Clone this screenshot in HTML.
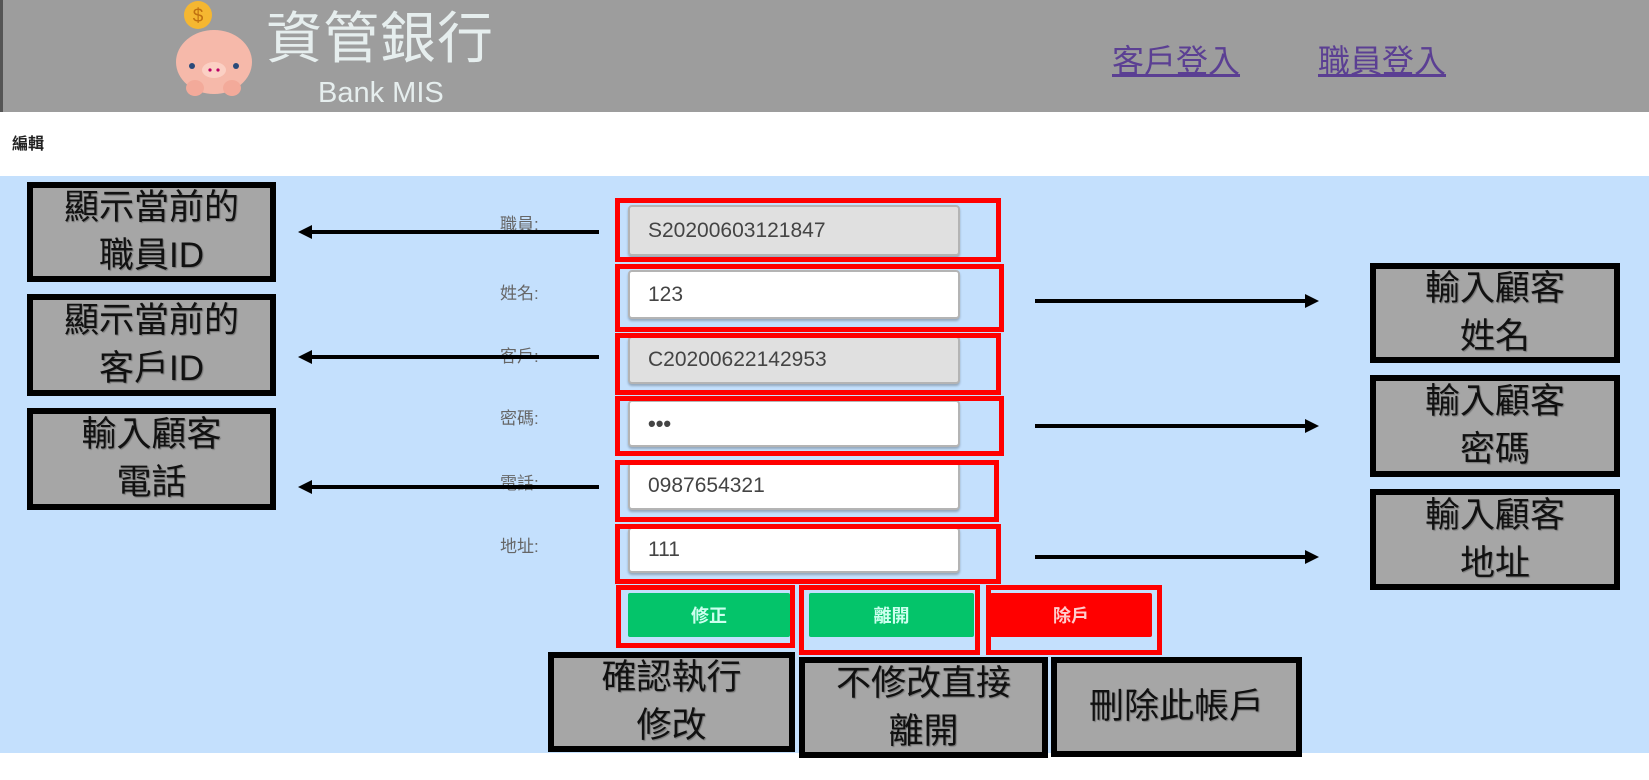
<!DOCTYPE html>
<html><head><meta charset="utf-8"><style>
*{margin:0;padding:0;box-sizing:border-box}
body{width:1649px;height:780px;position:relative;background:#fff;font-family:"Liberation Sans","Noto Sans CJK TC",sans-serif;overflow:hidden}
.a{position:absolute}
.hdr{left:0;top:0;width:1649px;height:112px;background:#9d9d9d;border-left:3px solid #555}
.blue{left:0;top:176px;width:1649px;height:577px;background:#c4e0fd}
.lnk{color:#5b3f93;text-decoration:underline;font-size:32px;top:36px}
.lbl{left:500px;font-size:17px;color:#666;line-height:20px}
.inp{left:628px;width:332px;border:2px solid #b4b4b4;border-radius:4px;background:#fff;font-size:21px;color:#444;padding-left:18px;display:flex;align-items:center;box-shadow:0 2px 2px rgba(0,0,0,.25)}
.ro{background:#e0e0e0}
.rb{border:5px solid #ff0000}
.btn{color:#cfe;font-size:18px;font-weight:bold;display:flex;align-items:center;justify-content:center;border-radius:2px}
.cb{background:#a6a6a6;border:6px solid #000;display:flex;align-items:center;justify-content:center;text-align:center;font-size:35px;line-height:48px;color:#111;text-shadow:1px 1px 1px rgba(0,0,0,.3)}
</style></head><body>
<div class="a hdr"></div>
<svg class="a" style="left:170px;top:0" width="90" height="100" viewBox="0 0 90 100">
<ellipse cx="44" cy="62" rx="38" ry="32" fill="#f6b9aa"/>
<ellipse cx="25" cy="88" rx="9" ry="8" fill="#f3aa9a"/>
<ellipse cx="62" cy="88" rx="9" ry="8" fill="#f3aa9a"/>
<ellipse cx="44" cy="70" rx="12" ry="8" fill="#fbd0c4"/>
<circle cx="40" cy="70" r="1.6" fill="#b06"/><circle cx="48" cy="70" r="1.6" fill="#b06"/>
<circle cx="22" cy="66" r="3" fill="#2a4a7a"/><circle cx="66" cy="66" r="3" fill="#2a4a7a"/>
<circle cx="28" cy="15" r="14" fill="#f5b731"/><text x="28" y="22" font-size="19" text-anchor="middle" fill="#c07010" font-family="Liberation Sans">$</text>
</svg>
<div class="a" style="left:266px;top:6px;font-size:56px;color:#e6eeee;letter-spacing:1px;line-height:66px">資管銀行</div>
<div class="a" style="left:318px;top:76px;font-size:29px;color:#e6eeee;line-height:34px">Bank MIS</div>
<div class="a lnk" style="left:1112px">客戶登入</div>
<div class="a lnk" style="left:1318px">職員登入</div>
<div class="a" style="left:12px;top:130px;font-size:16px;font-weight:bold;color:#222">編輯</div>
<div class="a blue"></div>

<div class="a lbl" style="top:215px">職員:</div>
<div class="a lbl" style="top:284px">姓名:</div>
<div class="a lbl" style="top:347px">客戶:</div>
<div class="a lbl" style="top:409px">密碼:</div>
<div class="a lbl" style="top:474px">電話:</div>
<div class="a lbl" style="top:537px">地址:</div>

<div class="a inp ro" style="top:205px;height:51px">S20200603121847</div>
<div class="a inp" style="top:270px;height:49px">123</div>
<div class="a inp ro" style="top:336px;height:48px">C20200622142953</div>
<div class="a inp" style="top:400px;height:47px;font-size:22px;font-weight:bold">•••</div>
<div class="a inp" style="top:462px;height:48px">0987654321</div>
<div class="a inp" style="top:527px;height:46px">111</div>

<div class="a rb" style="left:615px;top:198px;width:386px;height:64px"></div>
<div class="a rb" style="left:615px;top:264px;width:389px;height:68px"></div>
<div class="a rb" style="left:615px;top:333px;width:386px;height:62px"></div>
<div class="a rb" style="left:615px;top:396px;width:389px;height:60px"></div>
<div class="a rb" style="left:615px;top:460px;width:384px;height:62px"></div>
<div class="a rb" style="left:615px;top:524px;width:386px;height:60px"></div>

<div class="a btn" style="left:628px;top:593px;width:162px;height:44px;background:#04c46a">修正</div>
<div class="a btn" style="left:809px;top:593px;width:165px;height:44px;background:#04c46a">離開</div>
<div class="a btn" style="left:990px;top:593px;width:162px;height:44px;background:#ff0000;color:#fcc">除戶</div>
<div class="a rb" style="left:616px;top:585px;width:179px;height:63px"></div>
<div class="a rb" style="left:799px;top:585px;width:181px;height:70px"></div>
<div class="a rb" style="left:986px;top:585px;width:176px;height:70px"></div>

<div class="a cb" style="left:27px;top:182px;width:249px;height:100px">顯示當前的<br>職員ID</div>
<div class="a cb" style="left:27px;top:294px;width:249px;height:102px">顯示當前的<br>客戶ID</div>
<div class="a cb" style="left:27px;top:408px;width:249px;height:102px">輸入顧客<br>電話</div>
<div class="a cb" style="left:1370px;top:263px;width:250px;height:100px">輸入顧客<br>姓名</div>
<div class="a cb" style="left:1370px;top:375px;width:250px;height:102px">輸入顧客<br>密碼</div>
<div class="a cb" style="left:1370px;top:489px;width:250px;height:101px">輸入顧客<br>地址</div>
<div class="a cb" style="left:548px;top:652px;width:247px;height:100px">確認執行<br>修改</div>
<div class="a cb" style="left:799px;top:657px;width:249px;height:101px">不修改直接<br>離開</div>
<div class="a cb" style="left:1051px;top:657px;width:251px;height:100px">刪除此帳戶</div>

<svg class="a" style="left:0;top:0" width="1649" height="780">
<g stroke="#000" stroke-width="4">
<line x1="599" y1="232" x2="310" y2="232"/><line x1="599" y1="357" x2="310" y2="357"/><line x1="599" y1="487" x2="310" y2="487"/>
<line x1="1035" y1="301" x2="1306" y2="301"/><line x1="1035" y1="426" x2="1306" y2="426"/><line x1="1035" y1="557" x2="1306" y2="557"/>
</g>
<g fill="#000">
<polygon points="298,232 312,225 312,239"/><polygon points="298,357 312,350 312,364"/><polygon points="298,487 312,480 312,494"/>
<polygon points="1319,301 1305,294 1305,308"/><polygon points="1319,426 1305,419 1305,433"/><polygon points="1319,557 1305,550 1305,564"/>
</g>
</svg>
</body></html>
